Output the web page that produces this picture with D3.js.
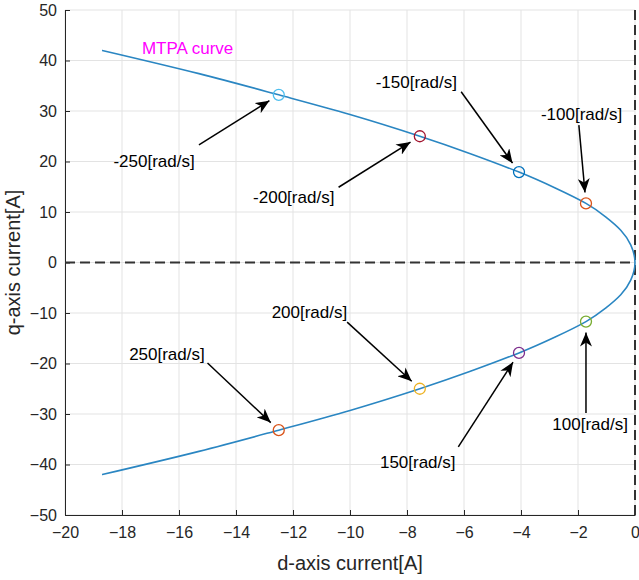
<!DOCTYPE html>
<html>
<head>
<meta charset="utf-8">
<script src="https://cdn.jsdelivr.net/npm/d3@7"></script>
<style>
  body { margin: 0; background: #fff; }
  text { font-family: "Liberation Sans", Arial, sans-serif; }
</style>
</head>
<body>
<div id="grafico"></div>
<script>
// MTPA curve (q-axis current, d-axis current)
const curveQ = [42.0, 37.4, 33.2, 29.3, 25.0, 21.6, 17.9, 14.75, 11.7, 9.0, 6.4, 3.5, 0,
                -3.5, -6.4, -9.0, -11.7, -14.75, -17.9, -21.6, -25.0, -29.3, -33.2, -37.4, -42.0];
const curveD = [-18.7, -15.3, -12.5, -10.0, -7.55, -5.8, -4.07, -2.8, -1.72, -1.02, -0.5, -0.15, 0,
                -0.15, -0.5, -1.02, -1.72, -2.8, -4.07, -5.8, -7.55, -10.0, -12.5, -15.3, -18.7];

// operating points on the curve
const speedLabels = ['-250', '-200', '-150', '-100', '250', '200', '150', '100'];
const pointD = [-12.5, -7.55, -4.07, -1.72, -12.5, -7.55, -4.07, -1.72];
const pointQ = [33.2, 25.0, 17.9, 11.7, -33.2, -25.0, -17.9, -11.7];
const pointColors = ['#4DBEEE', '#A2142F', '#0072BD', '#D95319', '#D95319', '#EDB120', '#7E2F8E', '#77AC30'];

const xTicks = [-20, -18, -16, -14, -12, -10, -8, -6, -4, -2, 0];
const yTicks = [-50, -40, -30, -20, -10, 0, 10, 20, 30, 40, 50];

// where each annotation text and arrow tail sit (data units)
const labelD = [-18.3, -13.4, -9.1, -3.3, -17.75, -12.75, -8.95, -2.9];
const labelQ = [18.9, 11.8, 34.6, 28.2, -19.3, -11.0, -40.7, -33.2];
const tailD = [-15.3, -10.4, -6.1, -1.97, -15.0, -10.1, -6.2, -1.72];
const tailQ = [23.3, 14.9, 33.8, 27.2, -19.9, -11.8, -36.5, -29.8];

const margin = { top: 10, right: 4, bottom: 65, left: 65 };
const width = 639 - margin.left - margin.right;
const height = 580 - margin.top - margin.bottom;

const svgBase = d3.select('#grafico')
  .append('svg')
  .attr('width', 639)
  .attr('height', 580);

const defs = svgBase.append('defs');
defs.append('marker')
  .attr('id', 'flecha')
  .attr('viewBox', '0 0 14 12')
  .attr('refX', 14)
  .attr('refY', 6)
  .attr('markerWidth', 14)
  .attr('markerHeight', 12)
  .attr('markerUnits', 'userSpaceOnUse')
  .attr('orient', 'auto')
  .append('path')
  .attr('d', 'M0,0 L14,6 L0,12 L4,6 Z')
  .attr('fill', '#000');

const svg = svgBase.append('g')
  .attr('transform', `translate(${margin.left},${margin.top})`);

const x = d3.scaleLinear().domain([-20, 0]).range([0, 570]);
const y = d3.scaleLinear().domain([-50, 50]).range([height, 0]);

// grid
svg.append('g')
  .selectAll('line')
  .data(xTicks)
  .enter().append('line')
  .attr('x1', d => x(d)).attr('x2', d => x(d))
  .attr('y1', 0).attr('y2', height)
  .attr('stroke', '#e3e3e3');

svg.append('g')
  .selectAll('line')
  .data(yTicks)
  .enter().append('line')
  .attr('x1', 0).attr('x2', x(0))
  .attr('y1', d => y(d)).attr('y2', d => y(d))
  .attr('stroke', '#e3e3e3');

// axes (ticks inward, like MATLAB)
const ejeX = svg.append('g')
  .attr('transform', `translate(0,${height})`)
  .call(d3.axisBottom(x).tickValues(xTicks).tickSize(-5).tickPadding(12).tickSizeOuter(0));
const ejeY = svg.append('g')
  .call(d3.axisLeft(y).tickValues(yTicks).tickSize(-5).tickPadding(8).tickSizeOuter(0));

[ejeX, ejeY].forEach(eje => {
  eje.select('.domain').attr('stroke', '#262626');
  eje.selectAll('.tick line').attr('stroke', '#262626');
  eje.selectAll('text')
    .style('font-size', '16px')
    .attr('fill', '#262626');
});

// dashed reference lines
svg.append('line')
  .attr('x1', 0).attr('x2', x(0))
  .attr('y1', y(0)).attr('y2', y(0))
  .attr('stroke', '#333').attr('stroke-width', 2)
  .attr('stroke-dasharray', '10,5');

svg.append('line')
  .attr('x1', x(0)).attr('x2', x(0))
  .attr('y1', 0).attr('y2', height)
  .attr('stroke', '#333').attr('stroke-width', 2)
  .attr('stroke-dasharray', '10,5');

// MTPA curve
const curva = d3.line()
  .x((d, i) => x(curveD[i]))
  .y(d => y(d))
  .curve(d3.curveNatural);

svg.append('path')
  .datum(curveQ)
  .attr('d', curva)
  .attr('fill', 'none')
  .attr('stroke', '#2a86c2')
  .attr('stroke-width', 1.6);

svg.append('text')
  .attr('x', x(-17.3))
  .attr('y', y(41.3))
  .style('font-size', '17px')
  .attr('fill', '#ff00ff')
  .text('MTPA curve');

// operating points
svg.selectAll('.punto')
  .data(pointD)
  .enter().append('circle')
  .attr('class', 'punto')
  .attr('cx', d => x(d))
  .attr('cy', (d, i) => y(pointQ[i]))
  .attr('r', 5.5)
  .attr('fill', 'none')
  .attr('stroke', (d, i) => pointColors[i])
  .attr('stroke-width', 1.3);

// arrows: tail near the text, tip just short of the circle
svg.selectAll('.flecha')
  .data(pointD)
  .enter().append('line')
  .attr('class', 'flecha')
  .attr('x1', (d, i) => x(tailD[i]))
  .attr('y1', (d, i) => y(tailQ[i]))
  .attr('x2', (d, i) => {
    const dx = x(d) - x(tailD[i]), dy = y(pointQ[i]) - y(tailQ[i]);
    const len = Math.hypot(dx, dy);
    return x(d) - dx / len * 11;
  })
  .attr('y2', (d, i) => {
    const dx = x(d) - x(tailD[i]), dy = y(pointQ[i]) - y(tailQ[i]);
    const len = Math.hypot(dx, dy);
    return y(pointQ[i]) - dy / len * 11;
  })
  .attr('stroke', '#000')
  .attr('stroke-width', 1.5)
  .attr('marker-end', 'url(#flecha)');

svg.selectAll('.etiqueta')
  .data(speedLabels)
  .enter().append('text')
  .attr('class', 'etiqueta')
  .attr('x', (d, i) => x(labelD[i]))
  .attr('y', (d, i) => y(labelQ[i]))
  .style('font-size', '17px')
  .attr('fill', '#000')
  .text(d => d + '[rad/s]');

// axis titles
svg.append('text')
  .attr('x', x(-10))
  .attr('y', height + 55)
  .attr('text-anchor', 'middle')
  .style('font-size', '20px')
  .attr('fill', '#262626')
  .text('d-axis current[A]');

svg.append('text')
  .attr('transform', `translate(-45,${y(0)}) rotate(-90)`)
  .attr('text-anchor', 'middle')
  .style('font-size', '20px')
  .attr('fill', '#262626')
  .text('q-axis current[A]');
</script>
</body>
</html>
